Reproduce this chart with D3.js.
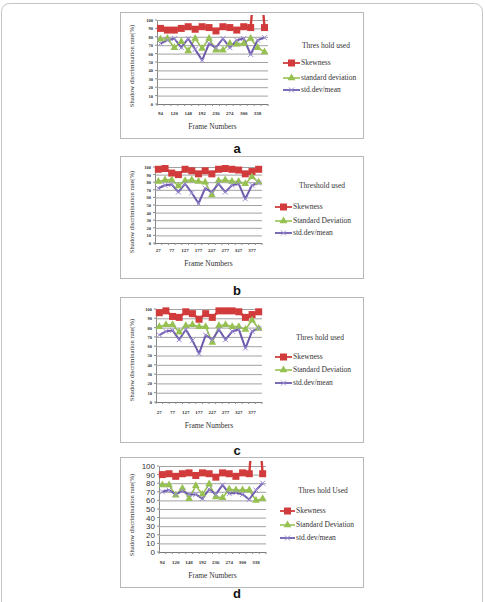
<!DOCTYPE html>
<html><head><meta charset="utf-8">
<script src="https://cdn.jsdelivr.net/npm/d3@7"></script>
<style>body{margin:0;background:#fff}svg{display:block}</style>
</head><body><svg id="c" width="485" height="602"></svg>
<script>
// ---- data ----
const framesAD = ["94","","120","","148","","192","","236","","274","","300","","338",""];
const framesBC = ["27","","77","","127","","177","","227","","277","","327","","377",""];
const yTicks = [0,10,20,30,40,50,60,70,80,90,100];

const skewA = [90, 88, 88, 90, 92, 89, 92, 91, 87, 92, 91, 88, 92, 91, 190, 91];
const sdA   = [77, 78, 67, 74, 63, 78, 66, 78, 64, 64, 72, 71, 72, 78, 67, 62];
const sdmA  = [72, 76, 78, 67, 78, 65, 52, 72, 67, 78, 67, 76, 78, 59, 76, 79];

const skewB = [97, 98, 92, 90, 97, 95, 91, 95, 91, 97, 98, 97, 96, 91, 94, 97];
const sdB   = [81, 83, 83, 75, 82, 83, 81, 80, 63, 82, 83, 81, 81, 78, 87, 80];
const sdmB  = [72, 76, 77, 67, 78, 66, 52, 72, 67, 78, 67, 76, 78, 58, 76, 79];

const skewC = [96, 98, 92, 91, 97, 95, 89, 95, 91, 98, 98, 98, 97, 91, 94, 97];
const sdC   = [81, 83, 83, 75, 82, 83, 81, 81, 64, 82, 83, 81, 81, 78, 88, 79];
const sdmC  = [72, 76, 77, 67, 78, 66, 52, 72, 67, 78, 67, 76, 78, 58, 76, 79];

const skewD = [90, 91, 88, 91, 92, 89, 92, 91, 87, 92, 91, 88, 92, 91, 190, 91];
const sdD   = [78, 78, 66, 74, 62, 77, 67, 79, 64, 63, 73, 72, 72, 72, 60, 62];
const sdmD  = [70, 72, 67, 71, 67, 67, 62, 73, 67, 78, 68, 69, 67, 61, 72, 80];

const namesA = ["Skewness", "standard deviation", "std.dev/mean"];
const namesBCD = ["Skewness", "Standard Deviation", "std.dev/mean"];
const legendTitles = ["Thres hold  used", "Threshold  used", "Thres hold  used", "Thres hold Used"];
const panelLetters = ["a", "b", "c", "d"];
const yTitle = "Shadow discrimination rate(%)";
const xTitle = "Frame Numbers";

// ---- layout ----
const colors = ["#d23b3b", "#96c152", "#6e5bae"];
const serif = "'Liberation Serif', 'Times New Roman', serif";
const sans = "'Liberation Sans', Arial, sans-serif";

const panels = [
  {frames: framesAD, series: [skewA, sdA, sdmA], names: namesA,
   box: [120, 12, 363, 138], plot: [157, 268, 20, 104], xLabY: 114, xTitY: 129, yTit: [132, 66],
   leg: {tx: 326, ty: 46, rows: [63, 78, 90], lx: [283, 300]}, letterY: 153, yTickFont: 4.5, yTickFam: serif},
  {frames: framesBC, series: [skewB, sdB, sdmB], names: namesBCD,
   box: [120, 156, 363, 278], plot: [155, 262, 167, 243], xLabY: 251, xTitY: 266, yTit: [132, 212],
   leg: {tx: 322, ty: 186, rows: [207, 221, 233], lx: [275, 292]}, letterY: 295, yTickFont: 4.5, yTickFam: serif},
  {frames: framesBC, series: [skewC, sdC, sdmC], names: namesBCD,
   box: [120, 297, 363, 442], plot: [156, 262, 309, 402], xLabY: 413, xTitY: 428, yTit: [132, 360],
   leg: {tx: 320, ty: 338, rows: [357, 370, 383], lx: [275, 292]}, letterY: 455, yTickFont: 4.5, yTickFam: serif},
  {frames: framesAD, series: [skewD, sdD, sdmD], names: namesBCD,
   box: [120, 457, 363, 587], plot: [159, 266, 466, 552], xLabY: 563, xTitY: 578, yTit: [132, 515],
   leg: {tx: 323, ty: 491, rows: [511, 525, 538], lx: [280, 295]}, letterY: 598, yTickFont: 8, yTickFam: sans}
];

const svg = d3.select("#c");
svg.append("rect").attr("x", 1.5).attr("y", 3.5).attr("width", 481).attr("height", 650)
  .attr("rx", 8).attr("fill", "#fff").attr("stroke", "#c4c4c4");

function marker(g, k, cx, cy) {
  if (k === 0) {
    g.append("rect").attr("x", cx - 3.5).attr("y", cy - 3.5).attr("width", 7).attr("height", 7)
      .attr("fill", colors[0]);
  } else if (k === 1) {
    g.append("path").attr("transform", `translate(${cx},${cy})`)
      .attr("d", d3.symbol().type(d3.symbolTriangle).size(26)()).attr("fill", colors[1]);
  } else {
    g.append("path").attr("d", `M${cx-2.5},${cy-2.5}L${cx+2.5},${cy+2.5}M${cx-2.5},${cy+2.5}L${cx+2.5},${cy-2.5}`)
      .attr("stroke", "#9b8fd0").attr("stroke-width", 1).attr("fill", "none");
  }
}

panels.forEach((p, pi) => {
  const g = svg.append("g");
  const [bx0, by0, bx1, by1] = p.box;
  g.append("rect").attr("x", bx0 + 0.5).attr("y", by0 + 0.5).attr("width", bx1 - bx0).attr("height", by1 - by0)
    .attr("fill", "#fff").attr("stroke", "#b8b8b8");

  const [x0, x1, yTop, yBot] = p.plot;
  const x = d3.scaleBand().domain(d3.range(p.frames.length)).range([x0, x1]);
  const cx = i => x(i) + x.bandwidth() / 2;
  const y = d3.scaleLinear().domain([0, 100]).range([yBot, yTop]);

  // gridlines + y tick labels
  const ya = d3.axisLeft(y).tickValues(yTicks).tickSize(-(x1 - x0)).tickPadding(4).tickFormat(d3.format("d"));
  const yg = g.append("g").attr("transform", `translate(${x0},0)`).call(ya);
  yg.select(".domain").attr("stroke", "#8a8a8a");
  yg.selectAll(".tick line").attr("stroke", "#a2a2a2").attr("stroke-width", 1);
  yg.selectAll(".tick text").attr("font-family", p.yTickFam).attr("font-size", p.yTickFont)
    .attr("fill", "#333").attr("font-weight", pi < 3 ? "bold" : "normal");
  yg.selectAll(".tick line").filter(d => d === 0).attr("stroke", "#7a7a7a");
  yTicks.forEach(t => g.append("line").attr("x1", x0 - 2).attr("x2", x0).attr("y1", y(t)).attr("y2", y(t)).attr("stroke", "#8a8a8a"));

  // x axis
  const xa = d3.axisBottom(x).tickSize(0).tickPadding(0).tickFormat(i => p.frames[i]);
  const xg = g.append("g").attr("transform", `translate(0,${p.xLabY - 3})`).call(xa);
  xg.select(".domain").remove();
  xg.selectAll(".tick text").attr("font-family", serif).attr("font-size", 5).attr("fill", "#333").attr("font-weight", "bold");
  d3.range(p.frames.length + 1).forEach(i => {
    const xx = i < p.frames.length ? x(i) : x1;
    g.append("line").attr("x1", xx).attr("x2", xx).attr("y1", yBot).attr("y2", yBot + 2).attr("stroke", "#8a8a8a");
  });

  // clip
  const clipId = "clip" + pi;
  svg.append("clipPath").attr("id", clipId).append("rect")
    .attr("x", x0 - 6).attr("y", yTop - 5).attr("width", x1 - x0 + 12).attr("height", yBot - yTop + 8);
  const data = g.append("g").attr("clip-path", `url(#${clipId})`);
  const line = d3.line().x((d, i) => cx(i)).y(d => y(d));
  const widths = [2.4, 1.6, 2];
  p.series.forEach((s, k) => {
    data.append("path").datum(s).attr("d", line).attr("fill", "none")
      .attr("stroke", colors[k]).attr("stroke-width", widths[k]).attr("stroke-linejoin", "round");
  });
  p.series.forEach((s, k) => {
    s.forEach((v, i) => { if (v <= 100) marker(data, k, cx(i), y(v)); });
  });

  // axis titles
  g.append("text").attr("x", (x0 + x1) / 2).attr("y", p.xTitY).attr("text-anchor", "middle")
    .attr("font-family", serif).attr("font-size", 7.5).attr("fill", "#333").text(xTitle);
  g.append("text").attr("transform", `translate(${p.yTit[0]},${p.yTit[1]}) rotate(-90)`)
    .attr("text-anchor", "middle").attr("dominant-baseline", "middle")
    .attr("font-family", serif).attr("font-size", 6.6).attr("fill", "#333").text(yTitle);

  // legend
  g.append("text").attr("x", p.leg.tx).attr("y", p.leg.ty).attr("text-anchor", "middle").attr("dominant-baseline", "middle")
    .attr("font-family", serif).attr("font-size", 7.5).attr("fill", "#333").text(legendTitles[pi]);
  p.names.forEach((n, k) => {
    const ly = p.leg.rows[k];
    g.append("line").attr("x1", p.leg.lx[0]).attr("x2", p.leg.lx[1]).attr("y1", ly).attr("y2", ly)
      .attr("stroke", colors[k]).attr("stroke-width", k === 1 ? 1.6 : 1.8);
    marker(g, k, (p.leg.lx[0] + p.leg.lx[1]) / 2, ly);
    g.append("text").attr("x", p.leg.lx[1] + 1).attr("y", ly).attr("dominant-baseline", "middle")
      .attr("font-family", serif).attr("font-size", 7.5).attr("fill", "#333").text(n);
  });

  // panel letter
  svg.append("text").attr("x", 237).attr("y", p.letterY).attr("text-anchor", "middle")
    .attr("font-family", sans).attr("font-weight", "bold").attr("font-size", 13).attr("fill", "#111").text(panelLetters[pi]);
});
</script></body></html>
